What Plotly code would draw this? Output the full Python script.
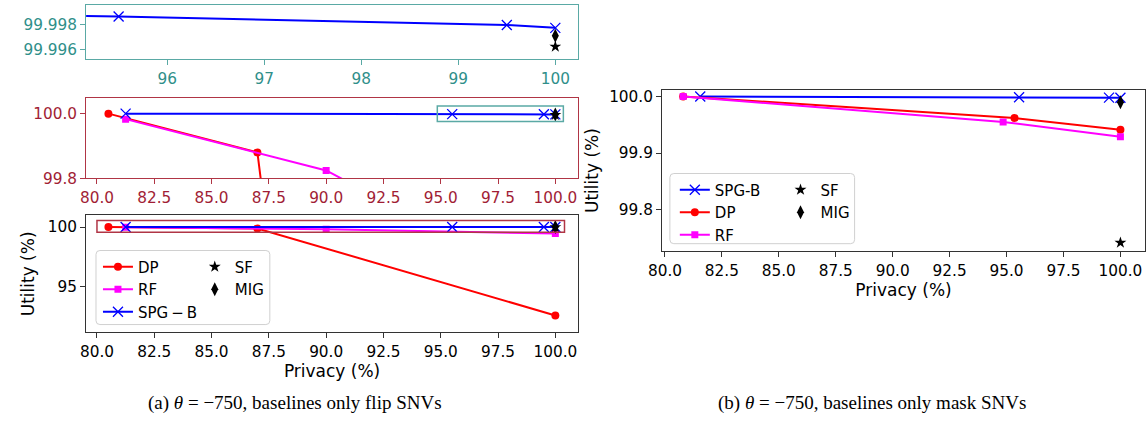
import plotly.graph_objects as go

W, H = 1146, 431

# ---------------- data ----------------
# (a) baselines only flip SNVs
dp_flip_x = [80.5, 87.0, 100.0]
dp_flip_y = [100.0, 99.88, 92.55]
rf_flip_x = [81.25, 90.0, 100.0]
rf_flip_y = [99.983, 99.824, 99.45]
spgb_flip_x = [81.25, 95.5, 99.5, 100.0]
spgb_flip_y = [100.0, 99.99863, 99.99795, 99.99773]
sf_flip_x = [100.0]
sf_flip_y = [99.99625]
mig_flip_x = [100.0]
mig_flip_y = [99.9971]

# (b) baselines only mask SNVs
spgb_mask_x = [81.55, 95.55, 99.5, 100.0]
spgb_mask_y = [100.0, 99.99863, 99.99795, 99.99773]
dp_mask_x = [80.8, 95.35, 100.0]
dp_mask_y = [100.0, 99.962, 99.941]
rf_mask_x = [80.8, 94.85, 100.0]
rf_mask_y = [100.0, 99.955, 99.929]
sf_mask_x = [100.0]
sf_mask_y = [99.7415]
mig_mask_x = [100.0]
mig_mask_y = [99.9897]

# tick labels
inset_xticks = [96, 97, 98, 99, 100]
inset_yticks = [99.996, 99.998]
main_xticks = [80.0, 82.5, 85.0, 87.5, 90.0, 92.5, 95.0, 97.5, 100.0]
mid_yticks = [99.8, 100.0]
bot_yticks = [95, 100]
right_yticks = [99.8, 99.9, 100.0]

# zoom indicator boxes (data units)
teal_box = dict(x0=94.85, x1=100.35, y0=99.976, y1=100.024)
red_box = dict(x0=80.0, x1=100.4, y0=99.57, y1=100.55)

# ---------------- styles ----------------
FONT = "DejaVu Sans"
TEAL_LINE = "#5aa9a5"
TEAL_TXT = "#2f8f8a"
RED_LINE = "#b03545"
RED_TXT = "#a11d35"
DARK = "#333333"
TICK_SIZE = 15.3
TITLE_SIZE = 17
LEG_SIZE = 15


def px_x(p):
    return p / W


def px_y(p):
    return 1 - p / H


styles = {
    "DP": dict(mode="lines+markers", line=dict(color="#ff0000", width=2),
               marker=dict(symbol="circle", size=8, color="#ff0000")),
    "RF": dict(mode="lines+markers", line=dict(color="#ff00ff", width=2),
               marker=dict(symbol="square", size=7, color="#ff00ff")),
    "SPG-B": dict(mode="lines+markers", line=dict(color="#0000ff", width=2),
                  marker=dict(symbol="x-thin", size=10, color="#0000ff",
                              line=dict(color="#0000ff", width=1.3))),
    "SF": dict(mode="markers",
               marker=dict(symbol="star", size=9, color="black")),
    "MIG": dict(mode="markers",
                marker=dict(symbol="diamond-tall", size=10, color="black")),
}

fig = go.Figure()

flip_series = [
    ("DP", "DP", dp_flip_x, dp_flip_y, "legend"),
    ("RF", "RF", rf_flip_x, rf_flip_y, "legend"),
    ("SPG-B", "SPG\u2009\u2212\u2009B", spgb_flip_x, spgb_flip_y, "legend"),
    ("SF", "SF", sf_flip_x, sf_flip_y, "legend2"),
    ("MIG", "MIG", mig_flip_x, mig_flip_y, "legend2"),
]
for xa, ya, show in [("x", "y", False), ("x2", "y2", False), ("x3", "y3", True)]:
    for key, label, xs, ys, leg in flip_series:
        fig.add_trace(go.Scatter(x=xs, y=ys, name=label, xaxis=xa, yaxis=ya,
                                 showlegend=show, legend=leg, **styles[key]))

mask_series = [
    ("SPG-B", "SPG-B", spgb_mask_x, spgb_mask_y, "legend3"),
    ("DP", "DP", dp_mask_x, dp_mask_y, "legend3"),
    ("RF", "RF", rf_mask_x, rf_mask_y, "legend3"),
    ("SF", "SF", sf_mask_x, sf_mask_y, "legend4"),
    ("MIG", "MIG", mig_mask_x, mig_mask_y, "legend4"),
]
for key, label, xs, ys, leg in mask_series:
    fig.add_trace(go.Scatter(x=xs, y=ys, name=label, xaxis="x4", yaxis="y4",
                             showlegend=True, legend=leg, **styles[key]))


def axis(domain, rng, tickvals, ticktext, linecolor, txtcolor, anchor, **kw):
    d = dict(domain=domain, range=rng, tickvals=tickvals, ticktext=ticktext,
             showline=True, mirror=True, linecolor=linecolor, linewidth=1,
             ticks="outside", ticklen=5, tickwidth=1, tickcolor=linecolor,
             tickfont=dict(family=FONT, size=TICK_SIZE, color=txtcolor),
             showgrid=False, zeroline=False, anchor=anchor, fixedrange=True)
    d.update(kw)
    return d


left_dom = [px_x(73), px_x(571)]
inset_ydom = [px_y(59), px_y(3)]
mid_ydom = [px_y(181), px_y(99)]
bot_ydom = [px_y(339), px_y(219)]
right_xdom = [px_x(656), px_x(1145)]
right_ydom = [px_y(256), px_y(90)]

main_xtext = [f"{v:.1f}" for v in main_xticks]
title_font = dict(family=FONT, size=TITLE_SIZE, color="black")

fig.update_layout(
    width=W, height=H, autosize=False,
    margin=dict(l=0, r=0, t=0, b=0),
    paper_bgcolor="white", plot_bgcolor="white",
    font=dict(family=FONT, color="black"),
    xaxis=axis(left_dom, [95.165, 100.234], inset_xticks,
               [str(v) for v in inset_xticks], TEAL_LINE, TEAL_TXT, "y"),
    yaxis=axis(inset_ydom, [99.99523, 99.99954], inset_yticks,
               [f"{v:.3f}" for v in inset_yticks], TEAL_LINE, TEAL_TXT, "x"),
    xaxis2=axis(left_dom, [79.526, 100.99], main_xticks, main_xtext,
                RED_LINE, RED_TXT, "y2"),
    yaxis2=axis(mid_ydom, [99.7995, 100.047], mid_yticks,
                [f"{v:.1f}" for v in mid_yticks], RED_LINE, RED_TXT, "x2"),
    xaxis3=axis(left_dom, [79.526, 100.99], main_xticks, main_xtext,
                DARK, "black", "y3",
                title=dict(text="Privacy (%)", standoff=3, font=title_font)),
    yaxis3=axis(bot_ydom, [91.13, 100.98], bot_yticks,
                [str(v) for v in bot_yticks], DARK, "black", "x3",
                title=dict(text="Utility (%)", standoff=8, font=title_font)),
    xaxis4=axis(right_xdom, [79.87, 101.08], main_xticks, main_xtext,
                DARK, "black", "y4",
                title=dict(text="Privacy (%)", standoff=3, font=title_font)),
    yaxis4=axis(right_ydom, [99.726, 100.012], right_yticks,
                [f"{v:.1f}" for v in right_yticks], DARK, "black", "x4",
                title=dict(text="Utility (%)", standoff=6, font=title_font)),
)

leg_common = dict(bgcolor="rgba(0,0,0,0)", borderwidth=0,
                  font=dict(family=FONT, size=LEG_SIZE, color="black"),
                  xanchor="left", yanchor="top", orientation="v",
                  traceorder="normal")
fig.update_layout(
    legend=dict(x=px_x(85), y=px_y(255), **leg_common),
    legend2=dict(x=px_x(183), y=px_y(255), **leg_common),
    legend3=dict(x=px_x(669), y=px_y(176), **leg_common),
    legend4=dict(x=px_x(776), y=px_y(176), **leg_common),
)


def rrect_path(x0, y0, x1, y1, r):
    def P(x, y):
        return f"{px_x(x):.5f},{px_y(y):.5f}"
    return (f"M {P(x0 + r, y0)} L {P(x1 - r, y0)} Q {P(x1, y0)} {P(x1, y0 + r)} "
            f"L {P(x1, y1 - r)} Q {P(x1, y1)} {P(x1 - r, y1)} "
            f"L {P(x0 + r, y1)} Q {P(x0, y1)} {P(x0, y1 - r)} "
            f"L {P(x0, y0 + r)} Q {P(x0, y0)} {P(x0 + r, y0)} Z")


shapes = [
    dict(type="rect", xref="x2", yref="y2", line=dict(color=TEAL_LINE, width=1.5),
         fillcolor="rgba(0,0,0,0)", layer="above", **teal_box),
    dict(type="rect", xref="x3", yref="y3", line=dict(color=RED_LINE, width=1.5),
         fillcolor="rgba(0,0,0,0)", layer="above", **red_box),
    dict(type="path", xref="paper", yref="paper", path=rrect_path(83, 255, 259, 331, 4),
         line=dict(color="#d0d0d0", width=1), fillcolor="rgba(255,255,255,0.8)",
         layer="above"),
    dict(type="path", xref="paper", yref="paper", path=rrect_path(664, 176, 851, 248, 4),
         line=dict(color="#d0d0d0", width=1), fillcolor="rgba(255,255,255,0.8)",
         layer="above"),
]
fig.update_layout(shapes=shapes)

cap_font = dict(family="Liberation Serif", size=19, color="black")
fig.add_annotation(x=px_x(284), y=px_y(412), xref="paper", yref="paper",
                   text="(a) <i>θ</i> = −750, baselines only flip SNVs",
                   showarrow=False, font=cap_font, xanchor="center", yanchor="middle")
fig.add_annotation(x=px_x(869), y=px_y(412), xref="paper", yref="paper",
                   text="(b) <i>θ</i> = −750, baselines only mask SNVs",
                   showarrow=False, font=cap_font, xanchor="center", yanchor="middle")

fig.write_html("out.html")
